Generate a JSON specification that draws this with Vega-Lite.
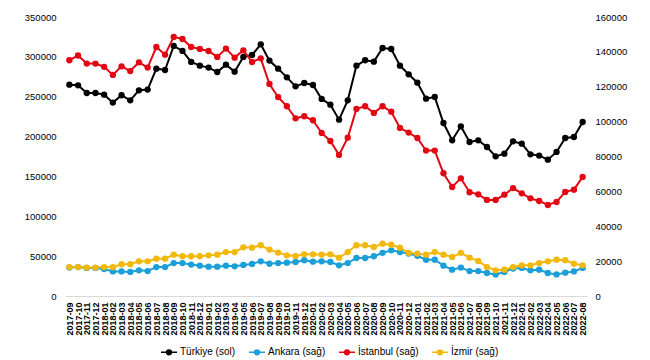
{
  "$schema": "https://vega.github.io/schema/vega-lite/v6.json",
  "autosize": "none",
  "width": 522,
  "height": 279,
  "padding": {"left": 65, "top": 17, "right": 63, "bottom": 64},
  "background": "white",
  "config": {
    "font": "Liberation Sans",
    "view": {"stroke": null},
    "axis": {"labelFont": "Liberation Sans", "labelColor": "#000000", "grid": false, "ticks": false, "domain": false, "title": null}
  },
  "datasets": {
    "wide": [
      {"m":"2017-09","T":265100,"A":16300,"I":135200,"Z":16600},
      {"m":"2017-10","T":264300,"A":16600,"I":137900,"Z":16600},
      {"m":"2017-11","T":254700,"A":16100,"I":133300,"Z":16300},
      {"m":"2017-12","T":254700,"A":16100,"I":133300,"Z":16300},
      {"m":"2018-01","T":252600,"A":15500,"I":131400,"Z":16600},
      {"m":"2018-02","T":242600,"A":14100,"I":126800,"Z":16600},
      {"m":"2018-03","T":251800,"A":14100,"I":131700,"Z":18200},
      {"m":"2018-04","T":245500,"A":13800,"I":129000,"Z":18200},
      {"m":"2018-05","T":258000,"A":14700,"I":134000,"Z":19900},
      {"m":"2018-06","T":258900,"A":14300,"I":131000,"Z":19900},
      {"m":"2018-07","T":285200,"A":16600,"I":142800,"Z":21400},
      {"m":"2018-08","T":283500,"A":16600,"I":138400,"Z":21400},
      {"m":"2018-09","T":313700,"A":18900,"I":148600,"Z":23700},
      {"m":"2018-10","T":307400,"A":18900,"I":147400,"Z":22800},
      {"m":"2018-11","T":293600,"A":18000,"I":142800,"Z":22800},
      {"m":"2018-12","T":289000,"A":17400,"I":141700,"Z":22800},
      {"m":"2019-01","T":286500,"A":16800,"I":140500,"Z":23300},
      {"m":"2019-02","T":281000,"A":16800,"I":137100,"Z":23700},
      {"m":"2019-03","T":290200,"A":17400,"I":141900,"Z":25200},
      {"m":"2019-04","T":281400,"A":17000,"I":136700,"Z":25200},
      {"m":"2019-05","T":299900,"A":17800,"I":140900,"Z":27900},
      {"m":"2019-06","T":302400,"A":18400,"I":134200,"Z":27700},
      {"m":"2019-07","T":315700,"A":19900,"I":136300,"Z":29100},
      {"m":"2019-08","T":295300,"A":18500,"I":121600,"Z":26600},
      {"m":"2019-09","T":285200,"A":18900,"I":114100,"Z":24900},
      {"m":"2019-10","T":274300,"A":19100,"I":108800,"Z":23300},
      {"m":"2019-11","T":263000,"A":19500,"I":101900,"Z":22900},
      {"m":"2019-12","T":267200,"A":20500,"I":103100,"Z":23900},
      {"m":"2020-01","T":264700,"A":19700,"I":100800,"Z":23900},
      {"m":"2020-02","T":247200,"A":19900,"I":93500,"Z":23700},
      {"m":"2020-03","T":240000,"A":19500,"I":88900,"Z":23900},
      {"m":"2020-04","T":221200,"A":17600,"I":80900,"Z":22000},
      {"m":"2020-05","T":245500,"A":18900,"I":90800,"Z":25200},
      {"m":"2020-06","T":289000,"A":21800,"I":107300,"Z":29100},
      {"m":"2020-07","T":295700,"A":21800,"I":108800,"Z":29100},
      {"m":"2020-08","T":294000,"A":22800,"I":105000,"Z":28100},
      {"m":"2020-09","T":311100,"A":24700,"I":108800,"Z":30000},
      {"m":"2020-10","T":309900,"A":26200,"I":105700,"Z":29400},
      {"m":"2020-11","T":289000,"A":25200,"I":96400,"Z":27700},
      {"m":"2020-12","T":278100,"A":24300,"I":93700,"Z":24700},
      {"m":"2021-01","T":267600,"A":23100,"I":90600,"Z":24300},
      {"m":"2021-02","T":247600,"A":20800,"I":83400,"Z":23700},
      {"m":"2021-03","T":249700,"A":20800,"I":83400,"Z":25200},
      {"m":"2021-04","T":217000,"A":17400,"I":70400,"Z":23700},
      {"m":"2021-05","T":195300,"A":15100,"I":62500,"Z":22400},
      {"m":"2021-06","T":212900,"A":16300,"I":67500,"Z":24700},
      {"m":"2021-07","T":193200,"A":14300,"I":59500,"Z":22000},
      {"m":"2021-08","T":195300,"A":14300,"I":58300,"Z":20100},
      {"m":"2021-09","T":186900,"A":13200,"I":55100,"Z":16600},
      {"m":"2021-10","T":175200,"A":12400,"I":55100,"Z":14700},
      {"m":"2021-11","T":178600,"A":13800,"I":58100,"Z":15100},
      {"m":"2021-12","T":194000,"A":15700,"I":61900,"Z":16600},
      {"m":"2022-01","T":191100,"A":16100,"I":58900,"Z":17600},
      {"m":"2022-02","T":177700,"A":14700,"I":56000,"Z":17600},
      {"m":"2022-03","T":176100,"A":15100,"I":54500,"Z":18900},
      {"m":"2022-04","T":171000,"A":13200,"I":52200,"Z":19900},
      {"m":"2022-05","T":180700,"A":12400,"I":53900,"Z":20800},
      {"m":"2022-06","T":198200,"A":13400,"I":59700,"Z":20500},
      {"m":"2022-07","T":199500,"A":14100,"I":61000,"Z":18500},
      {"m":"2022-08","T":218300,"A":16100,"I":68300,"Z":17600}
    ]
  },
  "data": {"name": "wide"},
  "transform": [
    {"fold": ["T", "A", "I", "Z"], "as": ["key", "value"]},
    {"lookup": "key", "from": {"data": {"values": [
      {"key": "T", "series": "Türkiye (sol)"},
      {"key": "A", "series": "Ankara (sağ)"},
      {"key": "I", "series": "İstanbul (sağ)"},
      {"key": "Z", "series": "İzmir (sağ)"}
    ]}, "key": "key", "fields": ["series"]}}
  ],
  "encoding": {
    "x": {
      "field": "m", "type": "ordinal", "sort": null,
      "scale": {"type": "point", "padding": 0.5},
      "axis": {"labelAngle": -90, "labelFontSize": 9, "labelFontWeight": "bold", "labelPadding": 6, "domain": true, "domainColor": "#d9d9d9", "domainWidth": 1}
    },
    "color": {
      "field": "series", "type": "nominal",
      "scale": {"domain": ["Türkiye (sol)", "Ankara (sağ)", "İstanbul (sağ)", "İzmir (sağ)"], "range": ["#000000", "#1a9fd8", "#e30613", "#f2b90c"]},
      "legend": {
        "title": null, "orient": "none", "direction": "horizontal", "legendX": 95, "legendY": 326,
        "symbolType": "M-1,0H1M-0.3,0A0.3,0.3,0,1,1,0.3,0A0.3,0.3,0,1,1,-0.3,0Z",
        "symbolSize": 256, "symbolStrokeWidth": 1.5, "labelFontSize": 10, "labelColor": "#000000", "labelFont": "Liberation Sans", "labelOffset": 2, "columnPadding": 10,
        "encode": {"symbols": {"update": {"fill": {"scale": "color", "field": "value"}, "stroke": {"scale": "color", "field": "value"}, "fillOpacity": {"value": 1}}}}
      }
    }
  },
  "layer": [
    {
      "transform": [{"filter": "datum.key === 'T'"}],
      "encoding": {
        "y": {"field": "value", "type": "quantitative",
          "scale": {"domain": [0, 350000], "nice": false},
          "axis": {"orient": "left", "values": [0, 50000, 100000, 150000, 200000, 250000, 300000, 350000], "labelFontSize": 9.5, "labelPadding": 9, "format": "d"}}
      },
      "layer": [
        {"mark": {"type": "line", "strokeWidth": 2}},
        {"mark": {"type": "point", "filled": true, "size": 40, "opacity": 1}}
      ]
    },
    {
      "transform": [{"filter": "datum.key !== 'T'"}],
      "encoding": {
        "y": {"field": "value", "type": "quantitative",
          "scale": {"domain": [0, 160000], "nice": false},
          "axis": {"orient": "right", "values": [0, 20000, 40000, 60000, 80000, 100000, 120000, 140000, 160000], "labelFontSize": 9.5, "labelPadding": 8, "format": "d"}}
      },
      "layer": [
        {"mark": {"type": "line", "strokeWidth": 2}},
        {"mark": {"type": "point", "filled": true, "size": 40, "opacity": 1}}
      ]
    }
  ],
  "resolve": {"scale": {"y": "independent"}}
}
